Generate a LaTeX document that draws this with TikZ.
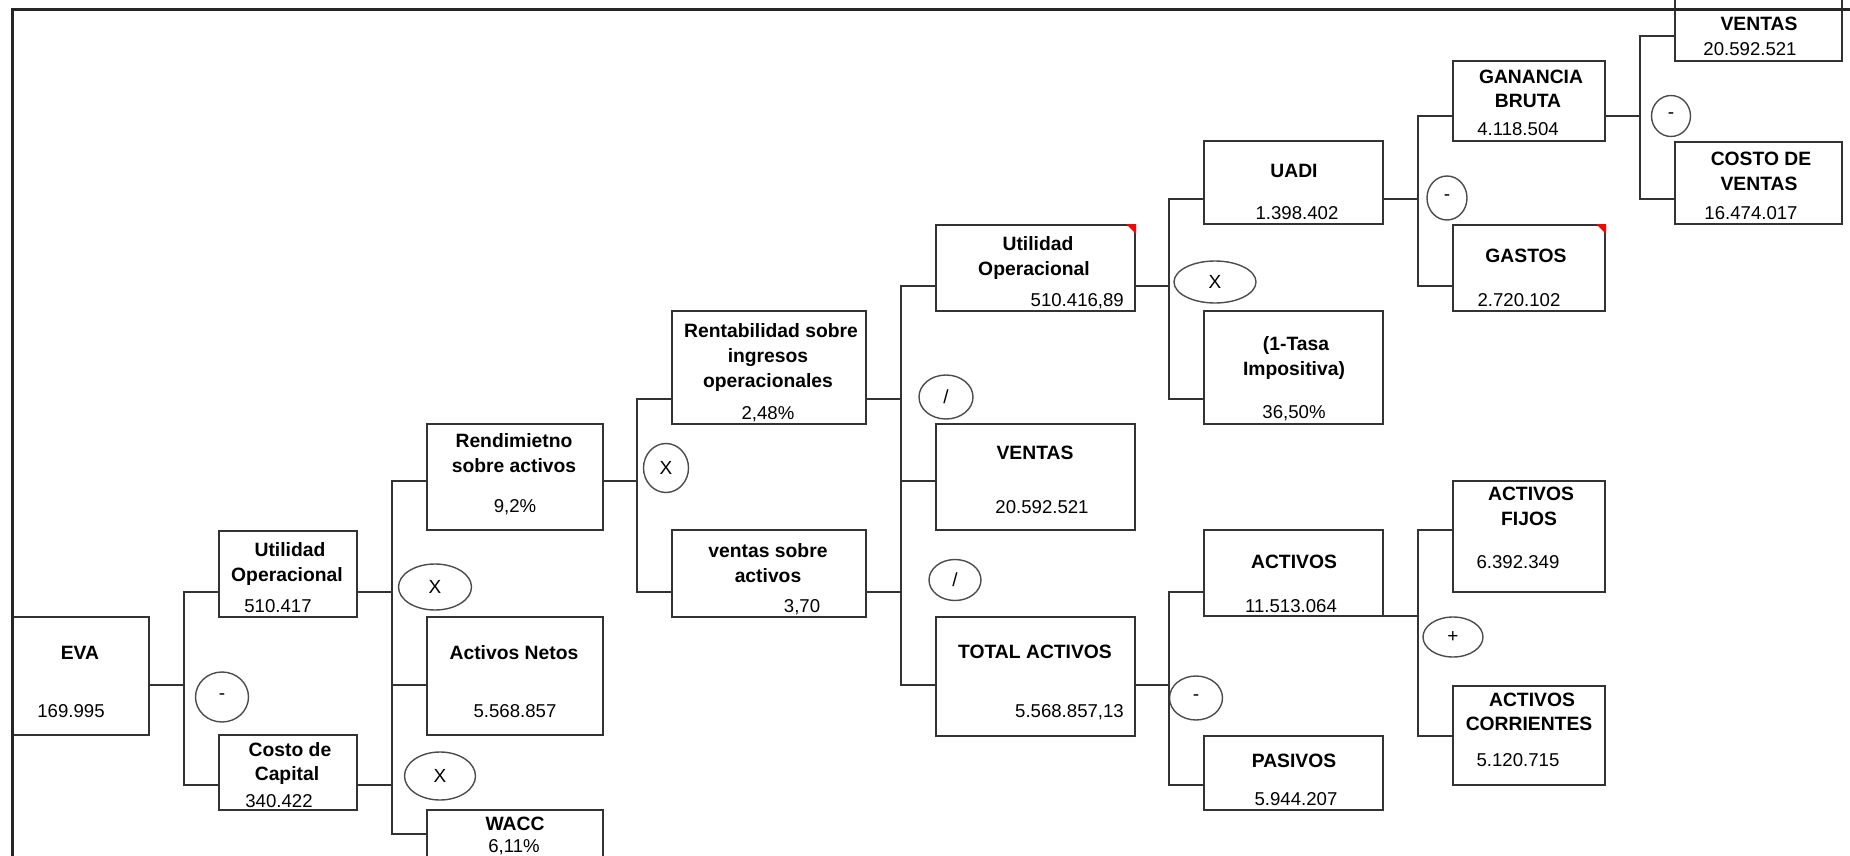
\documentclass[tikz,border=0pt]{standalone}
\usepackage{fontspec}
\setmainfont{Liberation Sans}
\usetikzlibrary{shapes.geometric}
\begin{document}
\begin{tikzpicture}[x=1pt,y=-1pt,
    caja/.style={draw=black!80,line width=2pt,rectangle,inner sep=0pt},
    op/.style={draw=black!70,line width=1.4pt,ellipse,inner sep=0pt,font=\fontsize{19}{22}\selectfont},
    tit/.style={font=\bfseries\fontsize{19.3}{23}\selectfont,anchor=base,inner sep=0pt},
    num/.style={font=\fontsize{18.6}{22}\selectfont,anchor=base,inner sep=0pt},
    lin/.style={draw=black!80,line width=2pt}]
\useasboundingbox (0,0) rectangle (1850,856);
\clip (0,0) rectangle (1850,856);

% cajas
\node[caja,minimum width=137pt,minimum height=118pt] (eva) at (80.5,676) {};
\node[caja,minimum width=138pt,minimum height=86pt] (uo1) at (288,574) {};
\node[caja,minimum width=138pt,minimum height=75pt] (cc) at (288,772.5) {};
\node[caja,minimum width=176pt,minimum height=106pt] (rend) at (515,477) {};
\node[caja,minimum width=176pt,minimum height=118pt] (an) at (515,676) {};
\node[caja,minimum width=176pt,minimum height=90pt] (wacc) at (515,855) {};
\node[caja,minimum width=194pt,minimum height=113pt] (rent) at (769,367.5) {};
\node[caja,minimum width=194pt,minimum height=87pt] (vsa) at (769,573.5) {};
\node[caja,minimum width=199pt,minimum height=86pt] (uo2) at (1035.5,268) {};
\node[caja,minimum width=199pt,minimum height=106pt] (vtas) at (1035.5,477) {};
\node[caja,minimum width=199pt,minimum height=119pt] (ta) at (1035.5,676.5) {};
\node[caja,minimum width=179pt,minimum height=83pt] (uadi) at (1293.5,182.5) {};
\node[caja,minimum width=179pt,minimum height=113pt] (tasa) at (1293.5,367.5) {};
\node[caja,minimum width=179pt,minimum height=86pt] (act) at (1293.5,573) {};
\node[caja,minimum width=179pt,minimum height=74pt] (pas) at (1293.5,773) {};
\node[caja,minimum width=152pt,minimum height=80pt] (gb) at (1529,101) {};
\node[caja,minimum width=152pt,minimum height=86pt] (gas) at (1529,268) {};
\node[caja,minimum width=152pt,minimum height=111pt] (af) at (1529,536.5) {};
\node[caja,minimum width=152pt,minimum height=99pt] (ac) at (1529,735.5) {};
\node[caja,minimum width=167pt,minimum height=81pt] (vtop) at (1758.5,20.5) {};
\node[caja,minimum width=167pt,minimum height=82pt] (cv) at (1758.5,183) {};

% marcas rojas
\fill[red] (uo2.north east) -- ++(-10,0) -- ++(10,10) -- cycle;
\fill[red] (gas.north east) -- ++(-10,0) -- ++(10,10) -- cycle;

% textos
\node[tit] (eva-t) at (80,659) {EVA};
\node[num] (eva-v) at (71,717) {169.995};
\node[tit] (uo1-t1) at (290,556) {Utilidad};
\node[tit] (uo1-t2) at (287,581) {Operacional};
\node[num] (uo1-v) at (278,612) {510.417};
\node[tit] (cc-t1) at (290,756) {Costo de};
\node[tit] (cc-t2) at (287,780) {Capital};
\node[num] (cc-v) at (279,807) {340.422};
\node[tit] (rend-t1) at (514,447) {Rendimietno};
\node[tit] (rend-t2) at (514,472) {sobre activos};
\node[num] (rend-v) at (515,512) {9,2\%};
\node[tit] (an-t) at (514,659) {Activos Netos};
\node[num] (an-v) at (515,717) {5.568.857};
\node[tit] (wacc-t) at (515,830) {WACC};
\node[num] (wacc-v) at (514,852) {6,11\%};
\node[tit] (rent-t1) at (771,337) {Rentabilidad sobre};
\node[tit] (rent-t2) at (768,362) {ingresos};
\node[tit] (rent-t3) at (768,387) {operacionales};
\node[num] (rent-v) at (768,419) {2,48\%};
\node[tit] (vsa-t1) at (768,557) {ventas sobre};
\node[tit] (vsa-t2) at (768,582) {activos};
\node[num] (vsa-v) at (802,612) {3,70};
\node[tit] (uo2-t1) at (1038,250) {Utilidad};
\node[tit] (uo2-t2) at (1034,275) {Operacional};
\node[num,anchor=base east] (uo2-v) at (1124,306) {510.416,89};
\node[tit] (vtas-t) at (1035,459) {VENTAS};
\node[num] (vtas-v) at (1042,513) {20.592.521};
\node[tit] (ta-t) at (1035,658) {TOTAL ACTIVOS};
\node[num,anchor=base east] (ta-v) at (1124,717) {5.568.857,13};
\node[tit] (uadi-t) at (1294,178) {UADI};
\node[num] (uadi-v) at (1297,219) {1.398.402};
\node[tit] (tasa-t1) at (1296,350) {(1-Tasa};
\node[tit] (tasa-t2) at (1294,375) {Impositiva)};
\node[num] (tasa-v) at (1294,418) {36,50\%};
\node[tit] (act-t) at (1294,568) {ACTIVOS};
\node[num] (act-v) at (1291,612) {11.513.064};
\node[tit] (pas-t) at (1294,767) {PASIVOS};
\node[num] (pas-v) at (1296,805) {5.944.207};
\node[tit] (gb-t1) at (1531,84) {GANANCIA};
\node[tit] (gb-t2) at (1528,108) {BRUTA};
\node[num] (gb-v) at (1518,136) {4.118.504};
\node[tit] (gas-t) at (1526,262) {GASTOS};
\node[num] (gas-v) at (1519,306) {2.720.102};
\node[tit] (af-t1) at (1531,500) {ACTIVOS};
\node[tit] (af-t2) at (1529,525) {FIJOS};
\node[num] (af-v) at (1518,568) {6.392.349};
\node[tit] (ac-t1) at (1532,706) {ACTIVOS};
\node[tit] (ac-t2) at (1529,730) {CORRIENTES};
\node[num] (ac-v) at (1518,766) {5.120.715};
\node[tit] (vtop-t) at (1759,31) {VENTAS};
\node[num] (vtop-v) at (1750,56) {20.592.521};
\node[tit] (cv-t1) at (1761,165) {COSTO DE};
\node[tit] (cv-t2) at (1759,190) {VENTAS};
\node[num] (cv-v) at (1751,219) {16.474.017};

% operadores
\node[op,minimum width=53pt,minimum height=50pt] (op1) at (222,697) {-};
\node[op,minimum width=73pt,minimum height=46pt] (op2) at (435,587) {X};
\node[op,minimum width=71pt,minimum height=48pt] (op3) at (440,776) {X};
\node[op,minimum width=45pt,minimum height=49pt] (op4) at (666,468) {X};
\node[op,minimum width=54pt,minimum height=44pt] (op5) at (946,397) {/};
\node[op,minimum width=52pt,minimum height=41pt] (op6) at (955,580) {/};
\node[op,minimum width=82pt,minimum height=42pt] (op7) at (1215,282) {X};
\node[op,minimum width=40pt,minimum height=44pt] (op8) at (1447,198) {-};
\node[op,minimum width=39pt,minimum height=41pt] (op9) at (1671,116) {-};
\node[op,minimum width=53pt,minimum height=44pt] (op10) at (1196,698) {-};
\node[op,minimum width=60pt,minimum height=40pt] (op11) at (1453,637) {+};

% buses
\coordinate (b1t) at (184,592); \coordinate (b1m) at (184,685); \coordinate (b1b) at (184,785);
\coordinate (b2a) at (392,481); \coordinate (b2b) at (392,592); \coordinate (b2c) at (392,685);
\coordinate (b2d) at (392,785); \coordinate (b2e) at (392,834);
\coordinate (b3a) at (637,399); \coordinate (b3b) at (637,481); \coordinate (b3c) at (637,592);
\coordinate (b4a) at (901,286); \coordinate (b4b) at (901,399); \coordinate (b4c) at (901,481);
\coordinate (b4d) at (901,592); \coordinate (b4e) at (901,685);
\coordinate (b5a) at (1169,199); \coordinate (b5b) at (1169,286); \coordinate (b5c) at (1169,399);
\coordinate (b6a) at (1169,592); \coordinate (b6b) at (1169,685); \coordinate (b6c) at (1169,785);
\coordinate (b7a) at (1418,116); \coordinate (b7b) at (1418,199); \coordinate (b7c) at (1418,286);
\coordinate (b8a) at (1640,36); \coordinate (b8b) at (1640,116); \coordinate (b8c) at (1640,199);
\coordinate (b9a) at (1418,530); \coordinate (b9b) at (1418,616); \coordinate (b9c) at (1418,736);

% conectores
\draw[lin] (eva.east |- b1m) -- (b1m);
\draw[lin] (uo1.west |- b1t) -- (b1t) -- (b1b) -- (cc.west |- b1b);
\draw[lin] (uo1.east |- b2b) -- (b2b);
\draw[lin] (cc.east |- b2d) -- (b2d);
\draw[lin] (rend.west |- b2a) -- (b2a) -- (b2e) -- (wacc.west |- b2e);
\draw[lin] (an.west |- b2c) -- (b2c);
\draw[lin] (rend.east |- b3b) -- (b3b);
\draw[lin] (rent.west |- b3a) -- (b3a) -- (b3c) -- (vsa.west |- b3c);
\draw[lin] (rent.east |- b4b) -- (b4b);
\draw[lin] (vsa.east |- b4d) -- (b4d);
\draw[lin] (uo2.west |- b4a) -- (b4a) -- (b4e) -- (ta.west |- b4e);
\draw[lin] (vtas.west |- b4c) -- (b4c);
\draw[lin] (uo2.east |- b5b) -- (b5b);
\draw[lin] (uadi.west |- b5a) -- (b5a) -- (b5c) -- (tasa.west |- b5c);
\draw[lin] (ta.east |- b6b) -- (b6b);
\draw[lin] (act.west |- b6a) -- (b6a) -- (b6c) -- (pas.west |- b6c);
\draw[lin] (uadi.east |- b7b) -- (b7b);
\draw[lin] (gb.west |- b7a) -- (b7a) -- (b7c) -- (gas.west |- b7c);
\draw[lin] (gb.east |- b8b) -- (b8b);
\draw[lin] (vtop.west |- b8a) -- (b8a) -- (b8c) -- (cv.west |- b8c);
\draw[lin] (act.east |- b9b) -- (b9b);
\draw[lin] (af.west |- b9a) -- (b9a) -- (b9c) -- (ac.west |- b9c);

% marco
\draw[line width=3pt,black!85] (12,860) -- (12,10) -- (1850,10);
\end{tikzpicture}
\end{document}
